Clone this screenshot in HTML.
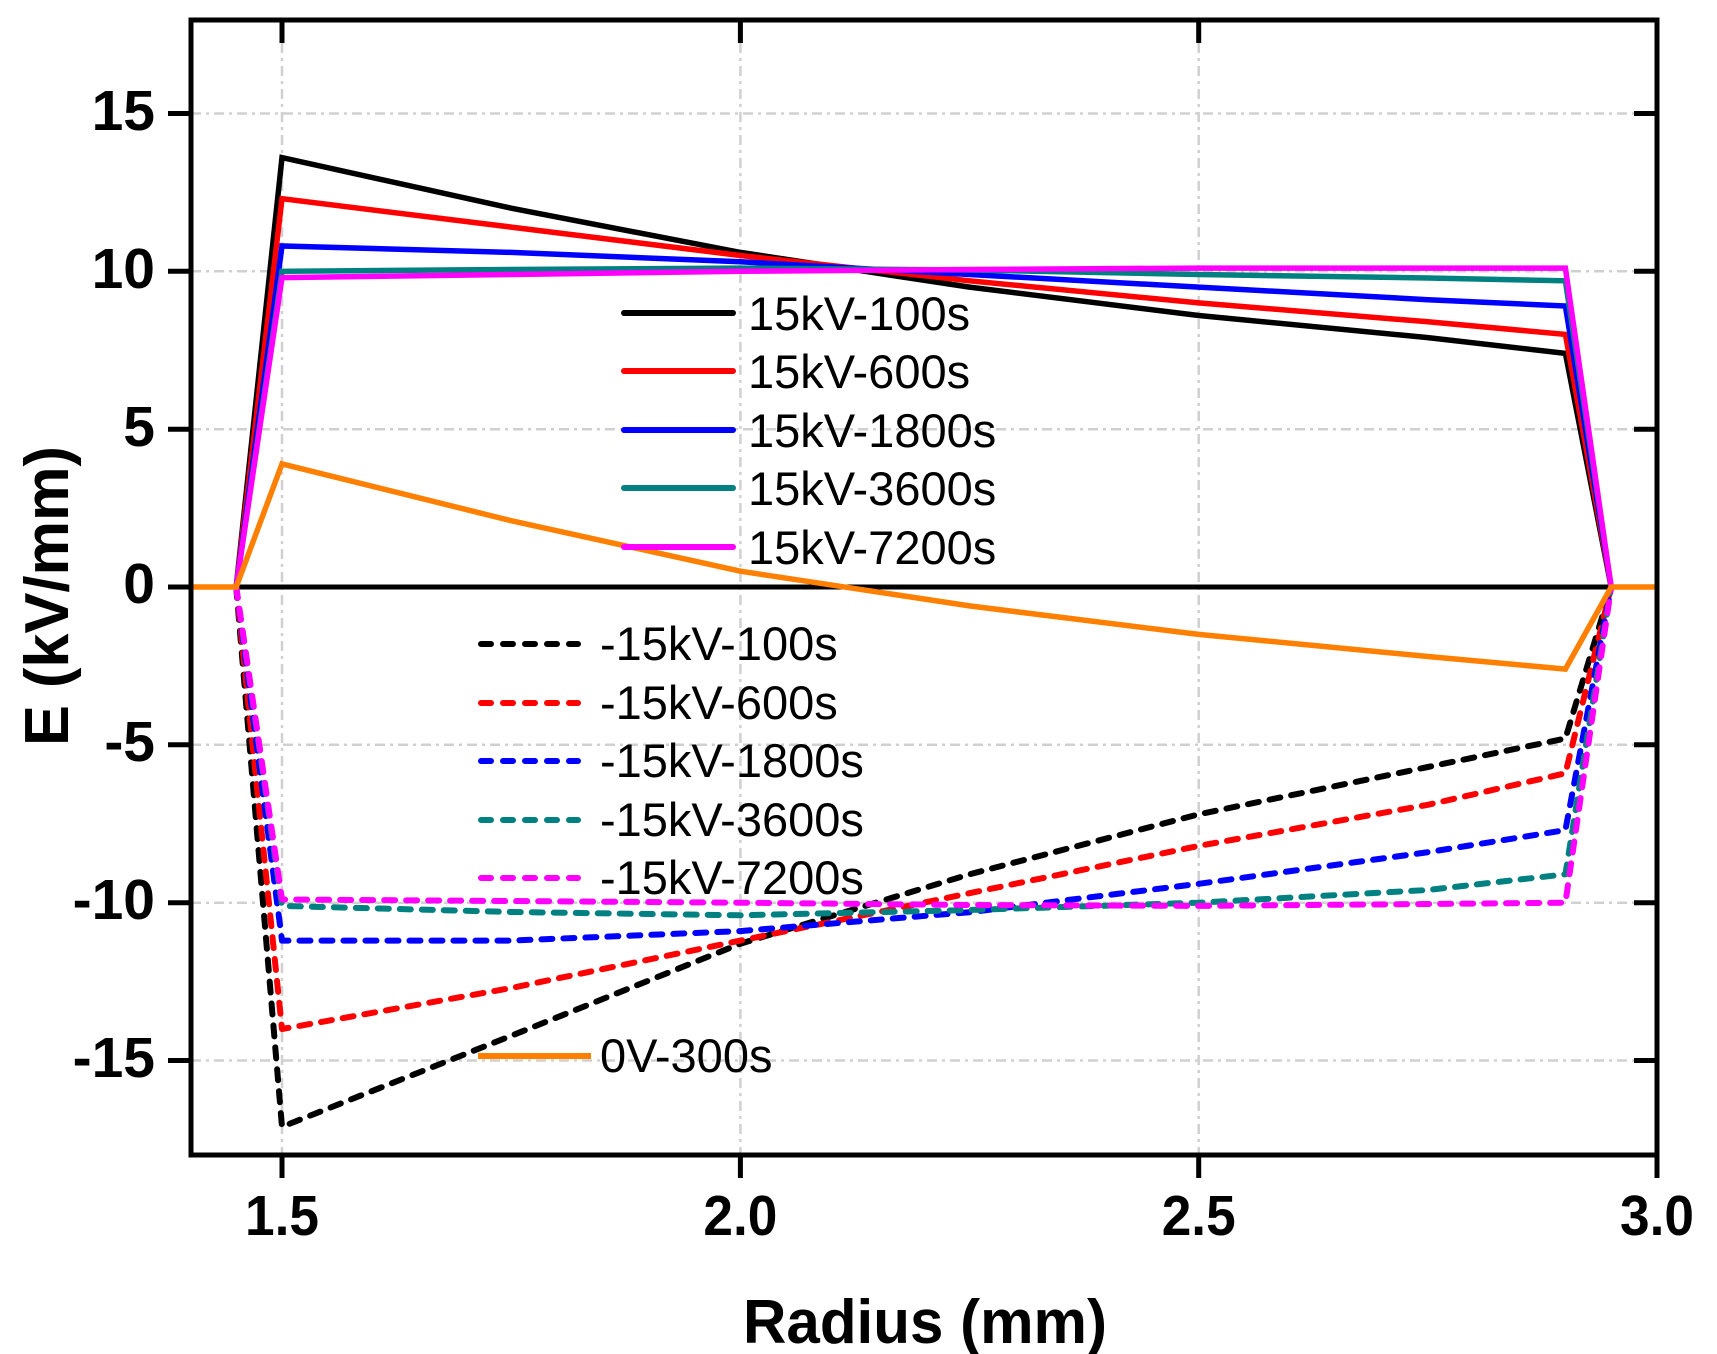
<!DOCTYPE html>
<html><head><meta charset="utf-8"><style>
html,body{margin:0;padding:0;background:#fff}
svg{display:block}
text{font-family:"Liberation Sans",Arial,sans-serif}
</style></head><body>
<svg width="1717" height="1354" viewBox="0 0 1717 1354" xmlns="http://www.w3.org/2000/svg">
<rect width="1717" height="1354" fill="#fff"/>
<!-- grid -->
<g stroke="#d0d0d0" stroke-width="2.5" stroke-dasharray="10 5 3 5" fill="none">
<line x1="282" y1="20" x2="282" y2="1155"/>
<line x1="740.4" y1="20" x2="740.4" y2="1155"/>
<line x1="1198.7" y1="20" x2="1198.7" y2="1155"/>
<line x1="191" y1="113.5" x2="1657" y2="113.5"/>
<line x1="191" y1="271.3" x2="1657" y2="271.3"/>
<line x1="191" y1="429.2" x2="1657" y2="429.2"/>
<line x1="191" y1="744.8" x2="1657" y2="744.8"/>
<line x1="191" y1="902.7" x2="1657" y2="902.7"/>
<line x1="191" y1="1060.5" x2="1657" y2="1060.5"/>
</g>
<!-- zero line -->
<line x1="191" y1="587" x2="1657" y2="587" stroke="#000" stroke-width="5"/>
<!-- negative dashed series -->
<g fill="none" stroke-width="6" stroke-dasharray="11 11" stroke-linecap="round" stroke-linejoin="round">
<polyline stroke="#000" points="236.2,587 282,1126.8 511.2,1035.8 740.4,943.7 969.5,874.3 1198.7,814.3 1427.9,767 1565.4,738.5 1611.2,587"/>
<polyline stroke="#ff0000" points="236.2,587 282,1029 511.2,988 740.4,940.6 969.5,893.2 1198.7,845.9 1427.9,804.8 1565.4,773.3 1611.2,587"/>
<polyline stroke="#0000ff" points="236.2,587 282,940.6 511.2,940.6 740.4,931.1 969.5,912.2 1198.7,883.8 1427.9,852.2 1565.4,830.1 1611.2,587"/>
<polyline stroke="#008080" points="236.2,587 282,905.9 511.2,912 740.4,915.3 969.5,910 1198.7,902.7 1427.9,890 1565.4,874.3 1611.2,587"/>
<polyline stroke="#ff00ff" points="236.2,587 282,899.5 511.2,901 740.4,902.7 969.5,905 1198.7,905.9 1427.9,904 1565.4,902.7 1611.2,587"/>
</g>
<!-- positive solid series -->
<g fill="none" stroke-width="5.5" stroke-linejoin="miter">
<polyline stroke="#000" points="236.2,587 282,157.6 511.2,208.2 740.4,252.4 969.5,287.1 1198.7,315.5 1427.9,337.6 1565.4,353.4 1611.2,587"/>
<polyline stroke="#ff0000" points="236.2,587 282,198.7 511.2,227.1 740.4,255.5 969.5,280.8 1198.7,302.9 1427.9,321.8 1565.4,334.4 1611.2,587"/>
<polyline stroke="#0000ff" points="236.2,587 282,246 511.2,252.4 740.4,261.8 969.5,274.5 1198.7,287.1 1427.9,299.7 1565.4,306 1611.2,587"/>
<polyline stroke="#008080" points="236.2,587 282,271.3 511.2,269.5 740.4,268.1 969.5,270 1198.7,274.5 1427.9,278 1565.4,280.8 1611.2,587"/>
<polyline stroke="#ff00ff" points="236.2,587 282,277.6 511.2,274.5 740.4,271.3 969.5,269.5 1198.7,268.1 1427.9,268.1 1565.4,268.1 1611.2,587"/>
<polyline stroke="#ff8000" points="191,587 236.2,587 282,463.9 511.2,520.7 740.4,571.2 969.5,605.9 1198.7,634.4 1427.9,656.5 1565.4,669.1 1611.2,587 1657,587"/>
</g>
<!-- frame -->
<rect x="191" y="20" width="1466" height="1135" fill="none" stroke="#000" stroke-width="5"/>
<!-- ticks -->
<g stroke="#000" stroke-width="5">
<line x1="282" y1="1155" x2="282" y2="1178"/><line x1="740.4" y1="1155" x2="740.4" y2="1178"/><line x1="1198.7" y1="1155" x2="1198.7" y2="1178"/><line x1="1657" y1="1155" x2="1657" y2="1178"/>
<line x1="282" y1="20" x2="282" y2="43"/><line x1="740.4" y1="20" x2="740.4" y2="43"/><line x1="1198.7" y1="20" x2="1198.7" y2="43"/>
<line x1="168" y1="113.5" x2="191" y2="113.5"/><line x1="168" y1="271.3" x2="191" y2="271.3"/><line x1="168" y1="429.2" x2="191" y2="429.2"/><line x1="168" y1="587" x2="191" y2="587"/><line x1="168" y1="744.8" x2="191" y2="744.8"/><line x1="168" y1="902.7" x2="191" y2="902.7"/><line x1="168" y1="1060.5" x2="191" y2="1060.5"/>
<line x1="1634" y1="113.5" x2="1657" y2="113.5"/><line x1="1634" y1="271.3" x2="1657" y2="271.3"/><line x1="1634" y1="429.2" x2="1657" y2="429.2"/><line x1="1634" y1="744.8" x2="1657" y2="744.8"/><line x1="1634" y1="902.7" x2="1657" y2="902.7"/><line x1="1634" y1="1060.5" x2="1657" y2="1060.5"/>
</g>
<!-- tick labels -->
<g font-weight="bold" font-size="57" fill="#000">
<text x="282" y="1235" text-anchor="middle" textLength="74" lengthAdjust="spacingAndGlyphs">1.5</text>
<text x="740.4" y="1235" text-anchor="middle" textLength="74" lengthAdjust="spacingAndGlyphs">2.0</text>
<text x="1198.7" y="1235" text-anchor="middle" textLength="74" lengthAdjust="spacingAndGlyphs">2.5</text>
<text x="1657" y="1235" text-anchor="middle" textLength="74" lengthAdjust="spacingAndGlyphs">3.0</text>
</g>
<g font-weight="bold" font-size="57" fill="#000" text-anchor="end">
<text x="155" y="130">15</text>
<text x="155" y="288">10</text>
<text x="155" y="446">5</text>
<text x="155" y="603">0</text>
<text x="155" y="761">-5</text>
<text x="155" y="919">-10</text>
<text x="155" y="1077">-15</text>
</g>
<!-- axis titles -->
<text x="925" y="1343" text-anchor="middle" font-weight="bold" font-size="62" textLength="364" lengthAdjust="spacingAndGlyphs">Radius (mm)</text>
<text transform="translate(68,596) rotate(-90)" text-anchor="middle" font-weight="bold" font-size="62" textLength="300" lengthAdjust="spacingAndGlyphs">E (kV/mm)</text>
<!-- legend 1 -->
<g stroke-width="6" stroke-linecap="round">
<line x1="624" y1="313" x2="733" y2="313" stroke="#000"/>
<line x1="624" y1="371" x2="733" y2="371" stroke="#ff0000"/>
<line x1="624" y1="430" x2="733" y2="430" stroke="#0000ff"/>
<line x1="624" y1="488" x2="733" y2="488" stroke="#008080"/>
<line x1="624" y1="547" x2="733" y2="547" stroke="#ff00ff"/>
</g>
<g font-size="47" fill="#000">
<text x="748" y="330">15kV-100s</text>
<text x="748" y="388">15kV-600s</text>
<text x="748" y="447">15kV-1800s</text>
<text x="748" y="505">15kV-3600s</text>
<text x="748" y="564">15kV-7200s</text>
</g>
<!-- legend 2 -->
<g stroke-width="6" stroke-linecap="round" stroke-dasharray="10 12">
<line x1="481" y1="644" x2="578" y2="644" stroke="#000"/>
<line x1="481" y1="703" x2="578" y2="703" stroke="#ff0000"/>
<line x1="481" y1="761" x2="578" y2="761" stroke="#0000ff"/>
<line x1="481" y1="820" x2="578" y2="820" stroke="#008080"/>
<line x1="481" y1="878" x2="578" y2="878" stroke="#ff00ff"/>
</g>
<line x1="478" y1="1056" x2="591" y2="1056" stroke="#ff8000" stroke-width="6"/>
<g font-size="47" fill="#000">
<text x="600" y="660">-15kV-100s</text>
<text x="600" y="719">-15kV-600s</text>
<text x="600" y="777">-15kV-1800s</text>
<text x="600" y="836">-15kV-3600s</text>
<text x="600" y="894">-15kV-7200s</text>
<text x="600" y="1072">0V-300s</text>
</g>
</svg>
</body></html>
